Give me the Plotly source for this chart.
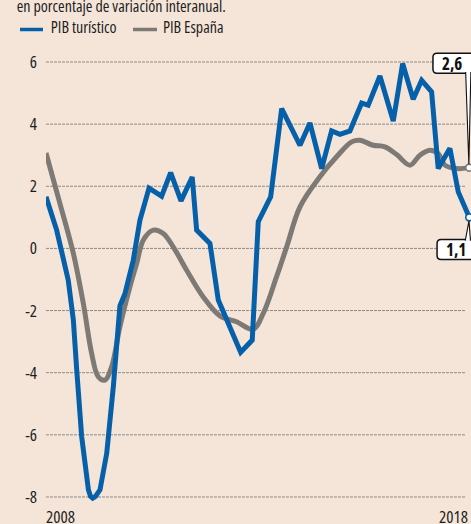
import plotly.graph_objects as go

# ---------------- data ----------------
blue_name = "PIB turístico"
gray_name = "PIB España"
subtitle = "en porcentaje de variación interanual."

blue_dates = [
    "2008-01-01", "2008-04-02", "2008-07-11", "2008-08-24", "2008-09-22",
    "2008-11-04", "2009-01-01", "2009-01-19", "2009-02-07", "2009-03-03",
    "2009-04-11", "2009-06-08", "2009-08-04", "2009-09-30", "2009-11-13",
    "2010-01-23", "2010-03-22", "2010-06-08", "2010-09-25", "2010-12-12",
    "2011-03-11", "2011-06-16", "2011-07-24", "2011-09-19", "2011-11-16",
    "2012-01-27", "2012-08-07", "2012-11-15", "2013-01-06", "2013-04-23",
    "2013-07-27", "2014-01-01", "2014-03-28", "2014-07-07", "2014-10-01",
    "2014-12-12", "2015-03-08", "2015-06-17", "2015-08-13", "2015-11-22",
    "2016-03-16", "2016-06-05", "2016-09-04", "2016-11-16", "2017-02-10",
    "2017-04-08", "2017-07-18", "2017-09-28", "2018-01-01",
]
blue_values = [
    1.66, 0.59, -1.02, -2.3, -3.9,
    -6.06, -7.77, -7.98, -8.04, -7.98,
    -7.77, -6.6, -4.45, -1.85, -1.45,
    -0.38, 0.91, 1.94, 1.68, 2.44,
    1.53, 2.30, 0.59, 0.37, 0.16,
    -1.66, -3.34, -2.95, 0.86, 1.66,
    4.50, 3.32, 4.04, 2.57, 3.78,
    3.67, 3.78, 4.68, 4.61, 5.55,
    4.10, 5.95, 4.80, 5.41, 5.04,
    2.57, 3.22, 1.82, 1.0,
]

gray_dates = [
    "2008-01-01", "2008-04-30", "2008-08-24", "2008-11-18", "2009-01-29",
    "2009-03-27", "2009-05-24", "2009-07-21", "2009-09-30", "2009-12-26",
    "2010-02-22", "2010-04-20", "2010-07-15", "2010-10-09", "2011-01-03",
    "2011-04-29", "2011-09-19", "2012-02-10", "2012-07-03", "2012-11-23",
    "2013-02-18", "2013-06-13", "2013-09-08", "2014-01-01", "2014-06-22",
    "2014-11-13", "2015-03-23", "2015-06-02", "2015-09-25", "2016-01-04",
    "2016-04-14", "2016-08-07", "2016-11-01", "2017-01-26", "2017-04-08",
    "2017-06-05", "2017-09-14", "2018-01-01",
]
gray_values = [
    3.07, 1.45, -0.16, -1.77, -3.38,
    -4.13, -4.24, -3.8, -2.52, -1.23,
    -0.48, 0.27, 0.59, 0.48, 0.05,
    -0.70, -1.56, -2.17, -2.36, -2.6,
    -2.09, -0.91, 0.05, 1.34, 2.31,
    2.95, 3.43, 3.48, 3.32, 3.27,
    3.02, 2.68, 3.0, 3.16, 3.05,
    2.68, 2.57, 2.6,
]

y_ticks = [-8, -6, -4, -2, 0, 2, 4, 6]
y_tick_labels = ["-8", "-6", "-4", "-2", "0", "2", "4", "6"]
year_labels = ["2008", "2018"]
end_labels = {"blue": "1,1", "gray": "2,6"}

# ---------------- styling / layout ----------------
W, H = 471, 524
ML, MR, MT, MB = 46, 0, 50, 15
PLOT_W = W - ML - MR
PLOT_H = H - MT - MB
PX_PER_UNIT = 31.07
Y_TOP = 6 + (62 - MT) / PX_PER_UNIT
Y_BOT = Y_TOP - PLOT_H / PX_PER_UNIT
X_RANGE = ["2008-01-01", "2018-01-16"]

BG = "#F5E5D9"
BLUE = "#0660A9"
GRAY = "#7D7A76"
TXT = "#1E1E1E"
FONT = "Open Sans, Roboto, DejaVu Sans, sans-serif"


def px_x(px):
    return (px - ML) / PLOT_W


def px_y(py):
    return (H - MB - py) / PLOT_H


fig = go.Figure()

fig.add_trace(go.Scatter(
    x=gray_dates, y=gray_values, name=gray_name, mode="lines",
    line=dict(color=GRAY, width=5, shape="spline", smoothing=1.0),
    showlegend=False, hoverinfo="skip",
))
fig.add_trace(go.Scatter(
    x=blue_dates, y=blue_values, name=blue_name, mode="lines",
    line=dict(color=BLUE, width=5, shape="linear"),
    showlegend=False, hoverinfo="skip",
))
# end markers
for dates, vals, col in ((gray_dates, gray_values, GRAY), (blue_dates, blue_values, BLUE)):
    fig.add_trace(go.Scatter(
        x=[dates[-1]], y=[vals[-1]], mode="markers", cliponaxis=False,
        marker=dict(size=7, color="white", line=dict(color=col, width=1.6)),
        showlegend=False, hoverinfo="skip",
    ))

shapes = []
# gridlines
for t in y_ticks:
    shapes.append(dict(
        type="line", xref="paper", yref="y", x0=0, x1=px_x(466), y0=t, y1=t,
        line=dict(color="#8E8A86", width=1, dash="3px,1px"), layer="below",
    ))

# legend samples
shapes.append(dict(type="line", xref="paper", yref="paper",
                   x0=px_x(20), x1=px_x(43), y0=px_y(29.5), y1=px_y(29.5),
                   line=dict(color=BLUE, width=3.5)))
shapes.append(dict(type="line", xref="paper", yref="paper",
                   x0=px_x(133), x1=px_x(157), y0=px_y(29.5), y1=px_y(29.5),
                   line=dict(color=GRAY, width=3.5)))


def rrect(x0, y0, x1, y1, r):
    return (f"M{x0 + r},{y0} L{x1 - r},{y0} Q{x1},{y0} {x1},{y0 + r} "
            f"L{x1},{y1 - r} Q{x1},{y1} {x1 - r},{y1} L{x0 + r},{y1} "
            f"Q{x0},{y1} {x0},{y1 - r} L{x0},{y0 + r} Q{x0},{y0} {x0 + r},{y0} Z")


def callout(xa, ya, box, tail):
    # box: (x0, y0, x1, y1) pixel offsets from the data point (y up)
    common = dict(type="path", xref="x", yref="y", xsizemode="pixel",
                  ysizemode="pixel", xanchor=xa, yanchor=ya, layer="above")
    shapes.append(dict(common, path=rrect(*box, 4), fillcolor="white",
                       line=dict(color="#111111", width=1.5)))
    shapes.append(dict(common, path=tail, fillcolor="white",
                       line=dict(color="#111111", width=1.1)))


# gray end label (above the point)
callout(gray_dates[-1], gray_values[-1], (-36.3, 94.4, 7, 114.4),
        "M-3.6,95.6 L-0.4,3.5 L1.6,95.6")
# blue end label (below the point)
callout(blue_dates[-1], blue_values[-1], (-32.2, -42.1, 7, -22.1),
        "M-4,-23.3 L-0.3,-3.5 L1.2,-23.3")


def txt(text, cx, cy, size):
    return dict(text=text, xref="paper", yref="paper", x=px_x(cx), y=px_y(cy),
                xanchor="center", yanchor="middle", showarrow=False,
                font=dict(family=FONT, size=size, color=TXT))


annotations = [
    txt(subtitle, 120.5, 6.5, 16),
    txt(blue_name, 83.5, 26.5, 16),
    txt(gray_name, 192.5, 26.5, 16),
    txt(year_labels[0], 60, 516.5, 17),
    txt(year_labels[1], 453, 516.5, 17),
    dict(text="<b>" + end_labels["gray"] + "</b>", xref="x", yref="y",
         x=gray_dates[-1], y=gray_values[-1], xshift=-16.8, yshift=104.4,
         showarrow=False, font=dict(family=FONT, size=17, color="#111111")),
    dict(text="<b>" + end_labels["blue"] + "</b>", xref="x", yref="y",
         x=blue_dates[-1], y=blue_values[-1], xshift=-13.7, yshift=-32.1,
         showarrow=False, font=dict(family=FONT, size=17, color="#111111")),
]

fig.update_layout(
    width=W, height=H,
    margin=dict(l=ML, r=MR, t=MT, b=MB, pad=0, autoexpand=False),
    paper_bgcolor=BG, plot_bgcolor=BG,
    showlegend=False,
    shapes=shapes, annotations=annotations,
    font=dict(family=FONT, size=17, color=TXT),
    xaxis=dict(type="date", range=X_RANGE, showgrid=False, zeroline=False,
               showticklabels=False, ticks="", showline=False, fixedrange=True,
               automargin=False),
    yaxis=dict(range=[Y_BOT, Y_TOP], tickvals=y_ticks, ticktext=y_tick_labels,
               showgrid=False, zeroline=False, ticks="", showline=False,
               ticklabelstandoff=8, automargin=False,
               tickfont=dict(family=FONT, size=17, color=TXT), fixedrange=True),
)

# page styling: no body margin, condensed face of the font (text stays centred/right-aligned)
post = """
document.body.style.margin='0';
var s=document.createElement('style');
s.textContent='.js-plotly-plot svg text{font-stretch:condensed !important;}';
document.head.appendChild(s);
"""

fig.write_html("out.html", config={"displayModeBar": False}, post_script=post)
